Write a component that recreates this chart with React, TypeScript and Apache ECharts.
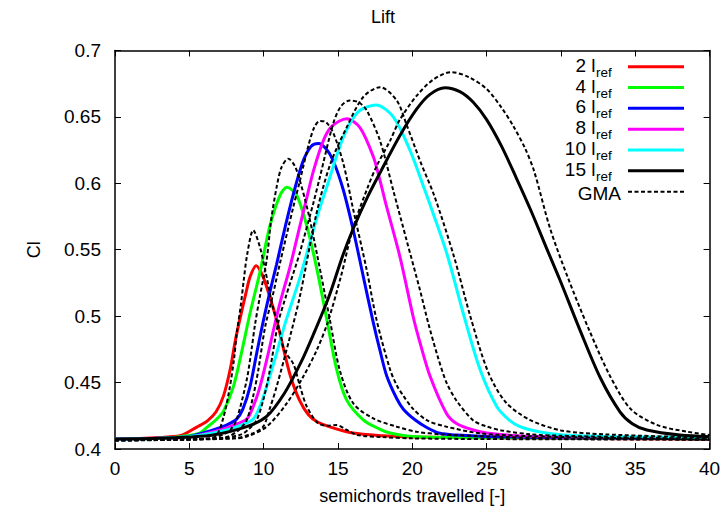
import React, { useEffect, useRef } from "react";
import * as echarts from "echarts";

// ---- data (x = semichords travelled, y = Cl) ----
const xTicks = { min: 0, max: 40, interval: 5 };
const yTicks = { min: 0.4, max: 0.7, interval: 0.05 };

const seriesNames = ["2", "4", "6", "8", "10", "15"];
const seriesColors = ["#ff0000", "#00ff00", "#0000ff", "#ff00ff", "#00ffff", "#000000"];

const lref2 = [[0,0.4075],[2,0.408],[3.5,0.409],[4.5,0.4105],[5.5,0.4165],[6.2,0.421],[6.8,0.428],[7.3,0.44],[7.75,0.46],[8.1,0.482],[8.45,0.5],[8.8,0.517],[9.1,0.53],[9.5,0.538],[9.95,0.53],[10.4,0.515],[10.9,0.496],[11.3,0.477],[11.8,0.455],[12.4,0.437],[13.0,0.426],[13.6,0.4205],[14.5,0.4165],[16,0.412],[18,0.41],[20,0.409],[25,0.4085],[30,0.408],[40,0.4075]];
const lref4 = [[0,0.4075],[3,0.408],[4.5,0.4095],[5.7,0.412],[6.2,0.4165],[6.8,0.422],[7.3,0.4285],[7.96,0.4468],[8.5,0.472],[9.08,0.502],[9.75,0.533],[10.42,0.568],[11.1,0.591],[11.57,0.597],[12.22,0.591],[12.9,0.568],[13.57,0.536],[14.24,0.498],[14.91,0.46],[15.58,0.437],[16.7,0.422],[17.8,0.415],[18.5,0.412],[20,0.4095],[25,0.4085],[40,0.408]];
const lref6 = [[0,0.4075],[3,0.408],[5,0.4095],[6.6,0.4143],[7.5,0.418],[8.18,0.4225],[8.6,0.43],[9.08,0.4468],[9.53,0.472],[9.97,0.496],[10.5,0.522],[10.87,0.539],[11.55,0.572],[12.22,0.601],[12.7,0.618],[13.2,0.628],[13.68,0.63],[14.2,0.626],[14.68,0.617],[15.36,0.595],[16.03,0.5647],[16.7,0.53],[17.38,0.495],[17.83,0.474],[18.28,0.455],[18.95,0.438],[19.4,0.43],[20.2,0.4218],[21,0.416],[21.86,0.4118],[23,0.4105],[25,0.4095],[30,0.4085],[40,0.408]];
const lref8 = [[0,0.4075],[3,0.408],[5,0.409],[7.06,0.4143],[8.0,0.418],[8.86,0.4225],[9.3,0.432],[9.75,0.4468],[10.31,0.472],[10.65,0.489],[11.1,0.51],[11.77,0.537],[12.44,0.568],[12.9,0.589],[13.34,0.609],[14.01,0.632],[14.6,0.643],[15.58,0.6486],[16.48,0.642],[17.38,0.62],[17.83,0.602],[18.28,0.582],[19.17,0.5446],[20.07,0.499],[20.52,0.48],[21.19,0.455],[22.3,0.4268],[23,0.419],[24.1,0.4143],[25,0.412],[27,0.41],[30,0.409],[40,0.408]];
const lref10 = [[0,0.4075],[3,0.408],[5.5,0.41],[7.51,0.4143],[8.5,0.418],[9.3,0.4225],[9.75,0.432],[10.2,0.4468],[10.87,0.472],[11.43,0.494],[12.44,0.529],[13.34,0.5647],[13.79,0.582],[14.24,0.597],[15.13,0.628],[15.8,0.645],[16.48,0.655],[17.56,0.659],[18.72,0.65],[19.84,0.625],[20.74,0.598],[21.19,0.584],[22.3,0.548],[23.43,0.502],[24.55,0.46],[25.68,0.432],[26.5,0.422],[27.25,0.4168],[28.5,0.413],[30.14,0.4105],[33,0.4095],[40,0.4085]];
const lref15 = [[0,0.4075],[3,0.408],[5,0.409],[6.61,0.4105],[8.86,0.4168],[10.2,0.4245],[11.4,0.442],[12.5,0.465],[13.3,0.485],[14.4,0.515],[15.3,0.545],[16.03,0.566],[17.0,0.59],[17.83,0.608],[19.17,0.636],[20.3,0.656],[21.19,0.667],[22.2,0.672],[23.2,0.669],[24.1,0.661],[25,0.648],[26,0.628],[27,0.604],[28,0.579],[29,0.552],[29.94,0.527],[31.28,0.4895],[32.63,0.454],[33.97,0.428],[34.8,0.419],[35.77,0.4143],[38,0.4105],[40,0.4093]];

const gma2 = [[0,0.4065],[4,0.407],[6,0.4075],[6.8,0.41],[7.3,0.424],[7.7,0.445],[8.0,0.467],[8.2,0.488],[8.45,0.507],[8.65,0.526],[8.9,0.547],[9.3,0.5647],[9.75,0.552],[10.1,0.535],[10.6,0.508],[11.1,0.488],[11.4,0.474],[12.0,0.464],[12.45,0.447],[12.9,0.432],[13.6,0.42],[14.2,0.4175],[14.9,0.418],[15.6,0.4143],[16.3,0.4105],[18,0.409],[20,0.408],[25,0.4075],[40,0.407]];
const gma4 = [[0,0.4065],[5,0.4075],[6.5,0.408],[7.3,0.411],[7.8,0.415],[8.18,0.422],[8.86,0.452],[9.2,0.476],[9.41,0.493],[9.75,0.515],[10.2,0.542],[10.5,0.572],[10.87,0.597],[11.2,0.612],[11.66,0.6186],[12.1,0.613],[12.44,0.602],[13.0,0.578],[13.6,0.546],[14.46,0.497],[15.13,0.459],[16.03,0.4343],[17.38,0.423],[18.95,0.4168],[20.3,0.413],[22,0.411],[25,0.4095],[30,0.408],[40,0.407]];
const gma6 = [[0,0.4065],[6,0.4075],[7.5,0.409],[8.3,0.414],[8.86,0.4218],[9.3,0.44],[9.64,0.4594],[10.1,0.492],[10.6,0.515],[11.1,0.54],[11.99,0.582],[12.44,0.602],[13.0,0.628],[13.4,0.642],[13.79,0.647],[14.2,0.646],[14.68,0.638],[15.36,0.615],[16.03,0.58],[16.93,0.535],[17.6,0.497],[18.5,0.46],[18.95,0.448],[19.4,0.44],[20.07,0.43],[21,0.4215],[22.3,0.4168],[24.55,0.4118],[27,0.41],[30,0.409],[40,0.407]];
const gma8 = [[0,0.4065],[7,0.408],[8.5,0.411],[9.0,0.415],[9.53,0.4218],[10.0,0.438],[10.42,0.4594],[10.98,0.495],[11.5,0.515],[12.22,0.54],[12.44,0.548],[13.34,0.585],[13.79,0.605],[14.68,0.645],[15.2,0.658],[15.8,0.6624],[16.4,0.661],[16.93,0.655],[17.83,0.632],[18.72,0.5947],[19.62,0.557],[20.52,0.5195],[21.08,0.4945],[21.7,0.47],[22.3,0.45],[23,0.436],[24.1,0.4215],[25,0.417],[26,0.414],[28,0.411],[30,0.41],[40,0.4075]];
const gma10 = [[0,0.4065],[8,0.408],[9.3,0.412],[9.97,0.4168],[10.4,0.43],[10.87,0.4468],[11.77,0.4844],[12.44,0.515],[13.57,0.578],[14.5,0.615],[15.58,0.642],[16.7,0.665],[17.83,0.6724],[18.95,0.6624],[19.62,0.644],[20.52,0.617],[21.5,0.59],[22.8,0.545],[23.9,0.5],[25.1,0.458],[26.3,0.435],[27.9,0.422],[30,0.414],[33,0.411],[40,0.4085]];
const gma15 = [[0,0.4065],[8,0.408],[8.86,0.4093],[10.2,0.4168],[11.55,0.4343],[12.66,0.4544],[13.57,0.4744],[14.3,0.495],[15.2,0.53],[16.03,0.567],[17.0,0.597],[17.6,0.613],[18.5,0.632],[19.17,0.648],[20.3,0.666],[21.4,0.678],[22.6,0.6837],[23.8,0.68],[25,0.671],[26,0.657],[26.8,0.643],[27.6,0.626],[28.2,0.609],[29.27,0.566],[30.5,0.528],[31.9,0.4895],[33.3,0.455],[34.7,0.43],[36.5,0.418],[38.5,0.413],[40,0.4105]];

const solidData = [lref2, lref4, lref6, lref8, lref10, lref15];
const gmaData = [gma2, gma4, gma6, gma8, gma10, gma15];

const FONT = "'Liberation Sans', Arial, Helvetica, sans-serif";

export default function App() {
  const ref = useRef<HTMLDivElement>(null);
  useEffect(() => {
    if (!ref.current) return;
    const chart = echarts.init(ref.current, null, { renderer: "svg" });

    const solidSeries = solidData.map((d, i) => ({
      name: seriesNames[i],
      type: "line",
      data: d,
      showSymbol: false,
      symbol: "none",
      smooth: 0.3,
      lineStyle: { color: seriesColors[i], width: 3 },
      itemStyle: { color: seriesColors[i] },
      z: 2,
    }));
    const gmaSeries = gmaData.map((d) => ({
      name: "GMA",
      type: "line",
      data: d,
      showSymbol: false,
      symbol: "none",
      smooth: 0.3,
      lineStyle: { color: "#000", width: 2, type: [4, 2.5] },
      itemStyle: { color: "#000" },
      z: 3,
    }));

    const legendEls: any[] = [];
    const legendLabels = [...seriesNames, "GMA"];
    legendLabels.forEach((lab, i) => {
      const ly = 66.7 + 20.83 * i;
      const isG = lab === "GMA";
      legendEls.push({
        type: "line",
        shape: { x1: 628, y1: ly, x2: 684, y2: ly },
        style: isG
          ? { stroke: "#000", lineWidth: 2, lineDash: [4, 2.5] }
          : { stroke: seriesColors[i], lineWidth: 3 },
      });
      if (isG) {
        legendEls.push({
          type: "text",
          x: 621,
          y: ly + 2,
          style: { text: "GMA", fontSize: 19, fontFamily: FONT, fill: "#000", textAlign: "right", textVerticalAlign: "middle" },
        });
      } else {
        legendEls.push({
          type: "text",
          x: 595.5,
          y: ly - 1.5,
          style: { text: lab + " l", fontSize: 19, fontFamily: FONT, fill: "#000", textAlign: "right", textVerticalAlign: "middle" },
        });
        legendEls.push({
          type: "text",
          x: 596,
          y: ly + 5.5,
          style: { text: "ref", fontSize: 13.5, fontFamily: FONT, fill: "#000", textAlign: "left", textVerticalAlign: "middle" },
        });
      }
    });

    const axisCommon = {
      type: "value",
      splitLine: { show: false },
      axisLine: { show: true, onZero: false, lineStyle: { color: "#000", width: 1.5 } },
      axisTick: { show: true, inside: true, length: 6, lineStyle: { color: "#000", width: 1 } },
    };

    chart.setOption({
      animation: false,
      backgroundColor: "#fff",
      textStyle: { fontFamily: FONT },
      grid: { left: 115, right: 16.4, top: 50.5, bottom: 67, containLabel: false },
      graphic: [
        {
          type: "text",
          x: 383,
          y: 17,
          style: { text: "Lift", fontSize: 18, fontFamily: FONT, fill: "#000", textAlign: "center", textVerticalAlign: "middle" },
        },
        ...legendEls,
      ],
      xAxis: [
        {
          ...axisCommon,
          position: "bottom",
          min: xTicks.min,
          max: xTicks.max,
          interval: xTicks.interval,
          name: "semichords travelled [-]",
          nameLocation: "middle",
          nameGap: 38,
          nameTextStyle: { fontSize: 18, color: "#000", fontFamily: FONT },
          axisLabel: { fontSize: 19, color: "#000", margin: 10, fontFamily: FONT },
        },
        {
          ...axisCommon,
          position: "top",
          min: xTicks.min,
          max: xTicks.max,
          interval: xTicks.interval,
          axisLabel: { show: false },
        },
      ],
      yAxis: [
        {
          ...axisCommon,
          position: "left",
          min: yTicks.min,
          max: yTicks.max,
          interval: yTicks.interval,
          name: "Cl",
          nameLocation: "middle",
          nameGap: 72,
          nameRotate: 90,
          nameTextStyle: { fontSize: 18, color: "#000", fontFamily: FONT },
          axisLabel: { fontSize: 19, color: "#000", margin: 14, fontFamily: FONT },
        },
        {
          ...axisCommon,
          position: "right",
          min: yTicks.min,
          max: yTicks.max,
          interval: yTicks.interval,
          axisLabel: { show: false },
        },
      ],
      series: [...solidSeries, ...gmaSeries],
    });
    return () => chart.dispose();
  }, []);
  return (
    <div
      ref={ref}
      style={{ position: "absolute", left: 0, top: 0, width: 726, height: 516 }}
    />
  );
}
